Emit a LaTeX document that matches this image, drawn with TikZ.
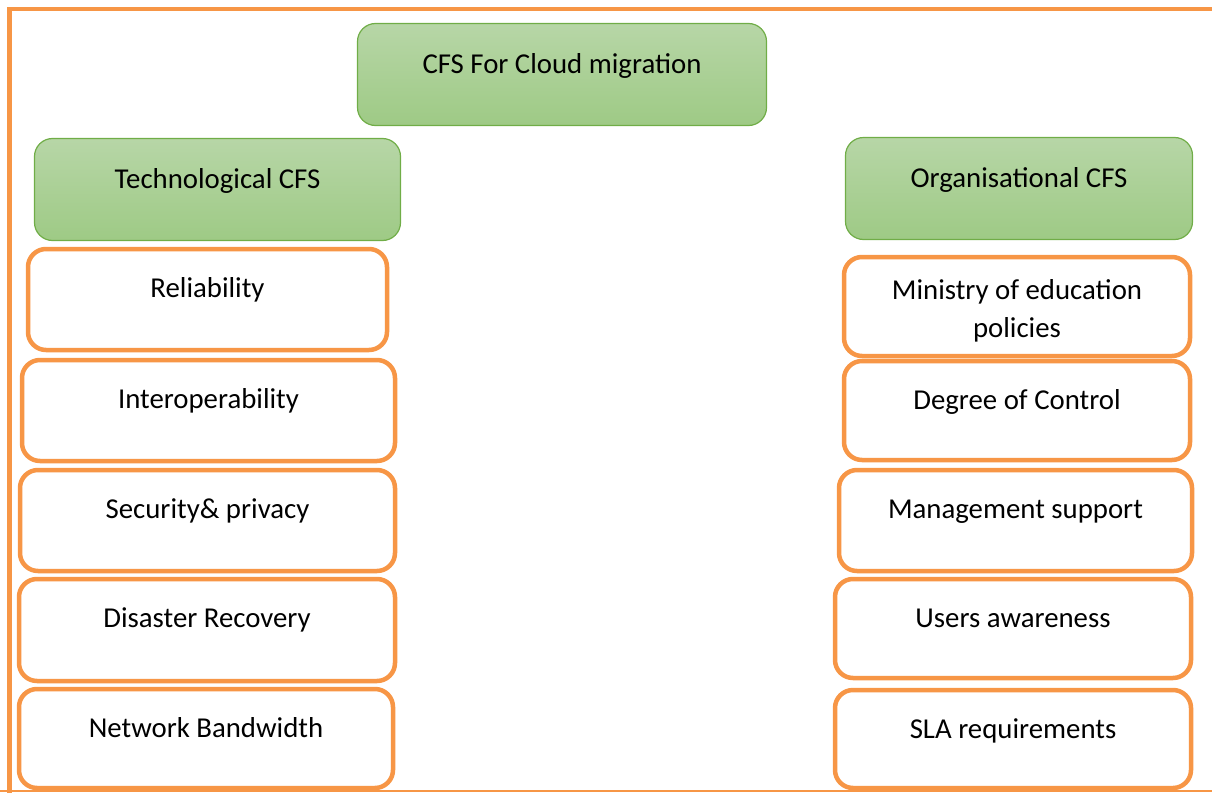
\documentclass[tikz,border=0pt]{standalone}
\usepackage{fontspec}
\setmainfont{Carlito}
\definecolor{frameor}{RGB}{247,150,70}
\definecolor{greentop}{RGB}{183,214,167}
\definecolor{greenbot}{RGB}{158,202,133}
\definecolor{greenline}{RGB}{112,173,71}
\tikzset{
  gbox/.style={draw=greenline, line width=1.2pt, rounded corners=18pt,
    top color=greentop, bottom color=greenbot, inner sep=0pt, outer sep=0pt},
  obox/.style={draw=frameor, line width=4.5pt, rounded corners=18pt,
    fill=white, inner sep=0pt, outer sep=0pt},
  txt/.style={anchor=base, inner sep=0pt, font=\fontsize{28.8}{38}\selectfont, text=black},
}
\begin{document}
\begin{tikzpicture}[x=1pt, y=-1pt]
\useasboundingbox (0,0) rectangle (1212,792);
\clip (0,0) rectangle (1212,792);

% outer frame
\draw[frameor, line width=4.5pt] (9.5,800) -- (9.5,9) -- (1220,9);
\draw[frameor, line width=1.5pt] (0,791) -- (1212,791);

% headings
\node[gbox, minimum width=409pt, minimum height=102pt] (root) at (562,74.5) {};
\node[txt] (rootT) at ([yshift=-50pt]root.north) {CFS For Cloud migration};

\node[gbox, minimum width=366pt, minimum height=102pt] (tech) at (217.5,189.5) {};
\node[txt] (techT) at ([yshift=-50pt]tech.north) {Technological CFS};

\node[gbox, minimum width=347pt, minimum height=102pt] (org) at (1019,188.5) {};
\node[txt] (orgT) at ([yshift=-50pt]org.north) {Organisational CFS};

% technological factors
\node[obox, minimum width=359pt, minimum height=101pt] (rel) at (207.5,299.5) {};
\node[txt] (relT) at ([yshift=-48pt]rel.north) {Reliability};

\node[obox, minimum width=373pt, minimum height=101pt] (inter) at (208.5,410.5) {};
\node[txt] (interT) at ([yshift=-48pt]inter.north) {Interoperability};

\node[obox, minimum width=375pt, minimum height=101pt] (sec) at (207.5,520.5) {};
\node[txt] (secT) at ([yshift=-48pt]sec.north) {Security\& privacy};

\node[obox, minimum width=376pt, minimum height=102pt] (dis) at (207,630) {};
\node[txt] (disT) at ([yshift=-48pt]dis.north) {Disaster Recovery};

\node[obox, minimum width=374pt, minimum height=99pt] (net) at (206,738.5) {};
\node[txt] (netT) at ([yshift=-48pt]net.north) {Network Bandwidth};

% organisational factors (two-line label: base is the last line)
\node[obox, minimum width=346pt, minimum height=99pt] (min) at (1017,306.5) {};
\node[txt, align=center] (minT) at ([yshift=-80pt]min.north) {Ministry of education\\policies};

\node[obox, minimum width=346pt, minimum height=99pt] (deg) at (1017,410.5) {};
\node[txt] (degT) at ([yshift=-48pt]deg.north) {Degree of Control};

\node[obox, minimum width=353pt, minimum height=101pt] (man) at (1015.5,520.5) {};
\node[txt] (manT) at ([yshift=-48pt]man.north) {Management support};

\node[obox, minimum width=356pt, minimum height=99pt] (usr) at (1013,628.5) {};
\node[txt] (usrT) at ([yshift=-48pt]usr.north) {Users awareness};

\node[obox, minimum width=356pt, minimum height=98pt] (sla) at (1013,739) {};
\node[txt] (slaT) at ([yshift=-48pt]sla.north) {SLA requirements};
\end{tikzpicture}
\end{document}
